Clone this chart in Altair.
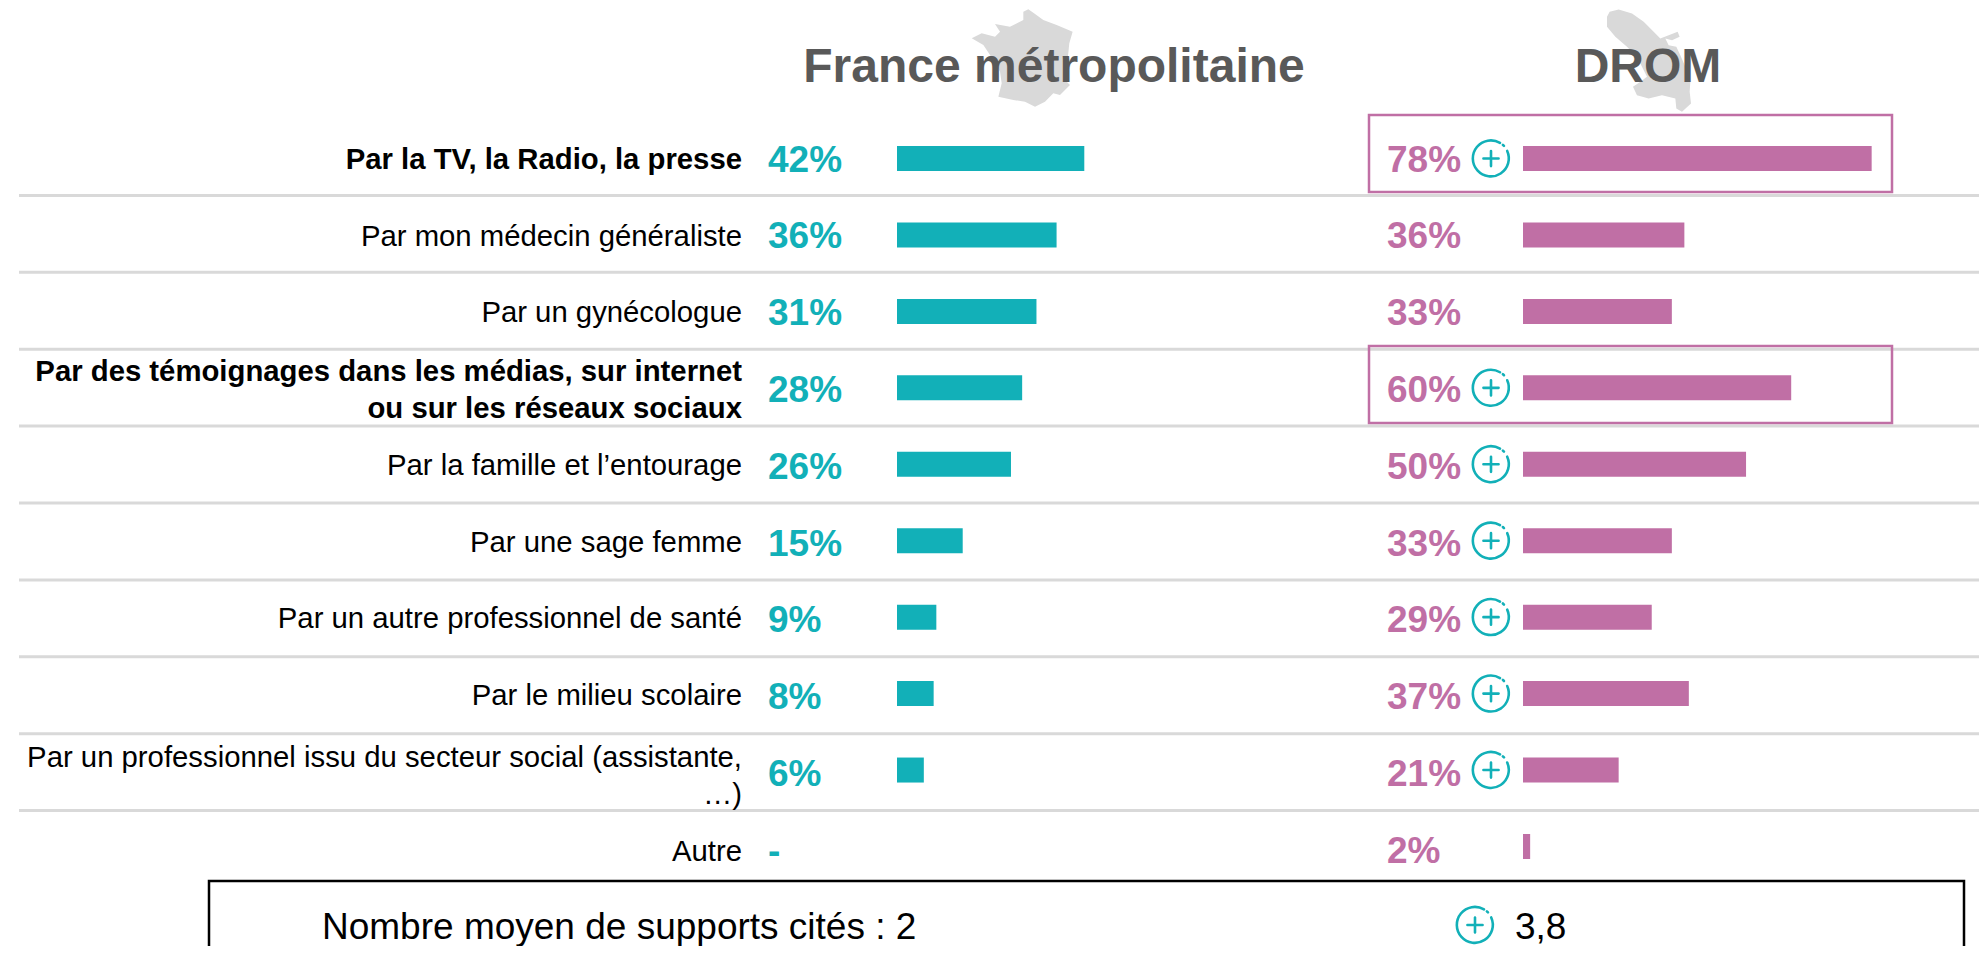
import altair as alt
import pandas as pd

categories = [
    "Par la TV, la Radio, la presse",
    "Par mon médecin généraliste",
    "Par un gynécologue",
    "Par des témoignages dans les médias, sur internet\nou sur les réseaux sociaux",
    "Par la famille et l’entourage",
    "Par une sage femme",
    "Par un autre professionnel de santé",
    "Par le milieu scolaire",
    "Par un professionnel issu du secteur social (assistante,\n…)",
    "Autre",
]
france = [41.9, 35.7, 31.2, 28.0, 25.5, 14.7, 8.8, 8.2, 6.0, None]
france_labels = ["42%", "36%", "31%", "28%", "26%", "15%", "9%", "8%", "6%", "-"]
drom = [78.0, 36.1, 33.3, 60.0, 49.9, 33.3, 28.8, 37.1, 21.4, 1.6]
drom_labels = ["78%", "36%", "33%", "60%", "50%", "33%", "29%", "37%", "21%", "2%"]
drom_plus = [True, False, False, True, True, True, True, True, True, False]
bold_rows = [True, False, False, True, False, False, False, False, False, False]
boxed_rows = [True, False, False, True, False, False, False, False, False, False]
headers = ["France métropolitaine", "DROM"]
summary_label = "Nombre moyen de supports cités : 2"
summary_value = "3,8"

TEAL = "#12b0b8"
PINK = "#c06fa5"
GREY = "#595959"
FONT = "Liberation Sans"

france_outline = [(205,28),(222,40),(250,60),(290,75),(338,95),(328,130),(325,160),(318,215),(310,235),(330,255),
                  (300,285),(280,280),(255,305),(225,320),(195,305),(160,300),(115,290),(125,250),(120,215),(100,180),
                  (70,135),(35,115),(65,100),(105,110),(120,95),(105,72),(150,80),(190,60),(190,35)]
mart_outline = [(58,35),(85,28),(125,40),(160,65),(190,95),(210,115),(235,105),(262,95),(268,110),(245,120),
                (225,115),(235,135),(258,140),(270,165),(285,200),(300,245),(298,275),(302,310),(275,335),(258,325),
                (255,295),(215,285),(175,295),(140,285),(128,260),(150,245),(170,230),(140,170),(110,140),(75,110),
                (50,80),(50,50)]


def outline_path(points, cx, cy, half):
    return "M" + "L".join(f"{(x-cx)/half:.3f},{(y-cy)/half:.3f}" for x, y in points) + "Z"


FRANCE_SHAPE = outline_path(france_outline, 186, 174, 152)
MART_SHAPE = outline_path(mart_outline, 176, 181, 153.5)
PLUS_SHAPE = ("M0.5,-0.866A1,1 0 1 0 0.9,-0.42"
              "M0.66,-0.76L0.72,-0.70"
              "M-0.42,0L0.42,0M0,-0.42L0,0.42")

df = pd.DataFrame({
    "cat": categories, "france": france, "flab": france_labels, "drom": drom, "dlab": drom_labels,
    "plus": drom_plus, "bold": bold_rows, "boxed": boxed_rows,
})
df["row"] = range(len(df))

W, H = 1971, 938
BAR_Y = alt.Scale(domain=categories, range=[112.3, 876.7], paddingInner=0, paddingOuter=0)
SEP_Y = alt.Scale(domain=categories, range=[110.5, 879.5], paddingInner=0, paddingOuter=0)
BOX_Y = alt.Scale(domain=categories, range=[107.0, 877.0], paddingInner=0, paddingOuter=0)
TXT_Y = alt.Scale(domain=categories, range=[114.3, 882.2], paddingInner=0, paddingOuter=0)
FR_X = alt.Scale(domain=[0, 100], range=[889, 1336])
DR_X = alt.Scale(domain=[0, 100], range=[1515, 1962])


def y(scale, **kw):
    return alt.Y("cat:N", sort=categories, scale=scale, axis=None, **kw)


base = alt.Chart(df)

separators = base.transform_filter("datum.cat != 'Autre'").mark_rule(color="#d9d9d9", strokeWidth=3).encode(
    y=y(SEP_Y, bandPosition=1), x=alt.value(11), x2=alt.value(1979))

boxes = base.transform_filter("datum.boxed").mark_rect(fill="white", fillOpacity=0, stroke=PINK, strokeWidth=2.5).encode(
    y=y(BOX_Y), x=alt.value(1361), x2=alt.value(1884))

france_bars = base.transform_filter("isValid(datum.france)").mark_bar(color=TEAL, height=25).encode(
    x=alt.X("france:Q", scale=FR_X, axis=None), y=y(BAR_Y))
drom_bars = base.mark_bar(color=PINK, height=25).encode(
    x=alt.X("drom:Q", scale=DR_X, axis=None), y=y(BAR_Y))


def labels(expr, dy, weight):
    return base.transform_filter(expr).mark_text(
        align="right", baseline="middle", font=FONT, fontSize=29.3, fontWeight=weight,
        lineBreak="\n", lineHeight=37, color="#000000", dy=dy,
    ).encode(y=y(BAR_Y), x=alt.value(734), text="cat:N")


label_layers = [
    labels("!datum.bold && datum.row != 8 && datum.row != 9", 2, "normal"),
    labels("datum.row == 0", 1, "bold"),
    labels("datum.row == 3", -16, "bold"),
    labels("datum.row == 8", -12, "normal"),
    labels("datum.row == 9", 6, "normal"),
]

france_vals = base.mark_text(align="left", baseline="middle", font=FONT, fontSize=37, fontWeight="bold", color=TEAL).encode(
    y=y(TXT_Y), x=alt.value(760), text="flab:N")
drom_vals = base.mark_text(align="left", baseline="middle", font=FONT, fontSize=37, fontWeight="bold", color=PINK).encode(
    y=y(TXT_Y), x=alt.value(1379), text="dlab:N")

plus_icons = base.transform_filter("datum.plus").mark_point(
    shape=PLUS_SHAPE, size=1296, filled=False, stroke=TEAL, strokeWidth=2.6, opacity=1, strokeCap="round"
).encode(y=y(BAR_Y), x=alt.value(1483))

maps = alt.layer(
    alt.Chart(pd.DataFrame({"m": ["France"]})).mark_point(shape=FRANCE_SHAPE, size=10260, filled=True, color="#d9d9d9", opacity=1)
    .encode(x=alt.value(1014), y=alt.value(50)),
    alt.Chart(pd.DataFrame({"m": ["Martinique"]})).mark_point(shape=MART_SHAPE, size=10470, filled=True, color="#d9d9d9", opacity=1)
    .encode(x=alt.value(1641), y=alt.value(52.5)),
)

titles = alt.layer(
    alt.Chart(pd.DataFrame({"t": [headers[0]]})).mark_text(font=FONT, fontSize=48, fontWeight="bold", color=GREY, align="center", baseline="alphabetic")
    .encode(x=alt.value(1046), y=alt.value(74), text="t:N"),
    alt.Chart(pd.DataFrame({"t": [headers[1]]})).mark_text(font=FONT, fontSize=48, fontWeight="bold", color=GREY, align="center", baseline="alphabetic")
    .encode(x=alt.value(1640), y=alt.value(74), text="t:N"),
)

summary_box = alt.Chart(pd.DataFrame({"b": ["Nombre"]})).mark_rect(fill="white", fillOpacity=0, stroke="#000000", strokeWidth=2.5).encode(
    x=alt.value(201), x2=alt.value(1956), y=alt.value(873), y2=alt.value(960))
summary_text = alt.Chart(pd.DataFrame({"t": [summary_label]})).mark_text(
    font=FONT, fontSize=37, align="left", baseline="middle", color="#000000"
).encode(x=alt.value(314), y=alt.value(920), text="t:N")
summary_num = alt.Chart(pd.DataFrame({"t": [summary_value]})).mark_text(
    font=FONT, fontSize=37, align="left", baseline="middle", color="#000000"
).encode(x=alt.value(1507), y=alt.value(920), text="t:N")
summary_icon = alt.Chart(pd.DataFrame({"t": [summary_value]})).mark_point(
    shape=PLUS_SHAPE, size=1296, filled=False, stroke=TEAL, strokeWidth=2.6, opacity=1, strokeCap="round"
).encode(x=alt.value(1467), y=alt.value(917))

chart = alt.layer(
    maps, titles, separators, boxes, france_bars, drom_bars, *label_layers,
    france_vals, drom_vals, plus_icons, summary_box, summary_text, summary_num, summary_icon,
).resolve_scale(x="independent", y="independent").properties(
    width=W, height=H, padding=0, autosize=alt.AutoSizeParams(type="none")
).configure_view(stroke=None)

chart.save("out.html", embed_options={"renderer": "svg", "actions": False})
